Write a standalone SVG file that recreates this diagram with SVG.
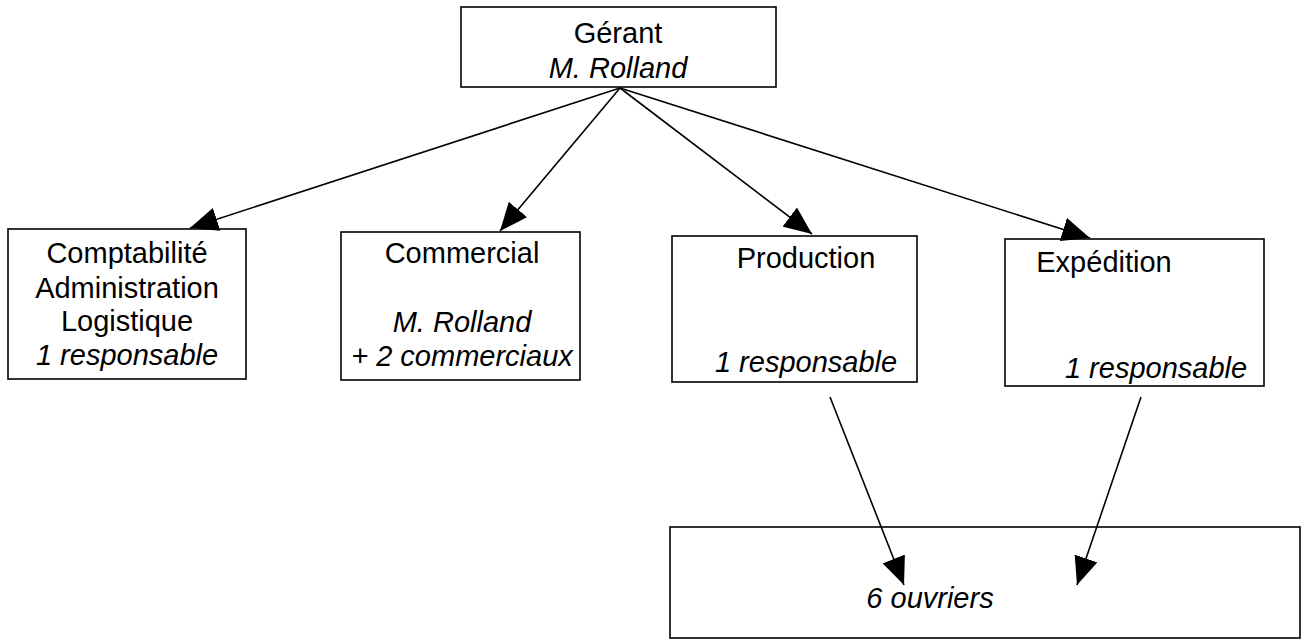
<svg xmlns="http://www.w3.org/2000/svg" width="1306" height="643" viewBox="0 0 1306 643">
<style>
.box{fill:#fff;stroke:#000;stroke-width:1.6}
.t{font-family:"Liberation Sans",Arial,sans-serif;font-size:29px;fill:#000;text-anchor:middle}
.i{font-style:italic}
.c{stroke:#000;stroke-width:1.6;fill:none;marker-end:url(#ah)}
</style>
<defs>
<marker id="ah" markerUnits="userSpaceOnUse" markerWidth="28" markerHeight="24" viewBox="0 0 28 24" refX="28" refY="12" orient="auto">
<path d="M0,0 L28,12 L0,24 Z" fill="#000"/>
</marker>
</defs>
<rect width="1306" height="643" fill="#fff"/>
<g id="gerant">
<rect class="box" x="461" y="7" width="315" height="80"/>
<text class="t" x="618" y="43">Gérant</text>
<text class="t i" x="618" y="78">M. Rolland</text>
</g>
<g id="comptabilite">
<rect class="box" x="8" y="229" width="238" height="150"/>
<text class="t" x="127" y="263">Comptabilité</text>
<text class="t" x="127" y="298">Administration</text>
<text class="t" x="127" y="331">Logistique</text>
<text class="t i" x="127" y="365">1 responsable</text>
</g>
<g id="commercial">
<rect class="box" x="341" y="232" width="239" height="148"/>
<text class="t" x="462" y="263">Commercial</text>
<text class="t i" x="462" y="332">M. Rolland</text>
<text class="t i" x="462" y="366">+ 2 commerciaux</text>
</g>
<g id="production">
<rect class="box" x="672" y="236" width="245" height="146"/>
<text class="t" x="806" y="268">Production</text>
<text class="t i" x="806" y="372">1 responsable</text>
</g>
<g id="expedition">
<rect class="box" x="1005" y="239" width="259" height="147"/>
<text class="t" x="1104" y="272">Expédition</text>
<text class="t i" x="1156" y="378">1 responsable</text>
</g>
<g id="ouvriers">
<rect class="box" x="670" y="527" width="630" height="111"/>
<text class="t i" x="930" y="608">6 ouvriers</text>
</g>
<g id="connectors">
<line class="c" x1="620" y1="88" x2="190" y2="228"/>
<line class="c" x1="620" y1="88" x2="500" y2="231"/>
<line class="c" x1="620" y1="88" x2="812" y2="234"/>
<line class="c" x1="620" y1="88" x2="1090" y2="238"/>
<line class="c" x1="830" y1="397" x2="904" y2="585"/>
<line class="c" x1="1141" y1="397" x2="1077" y2="585"/>
</g>
</svg>
